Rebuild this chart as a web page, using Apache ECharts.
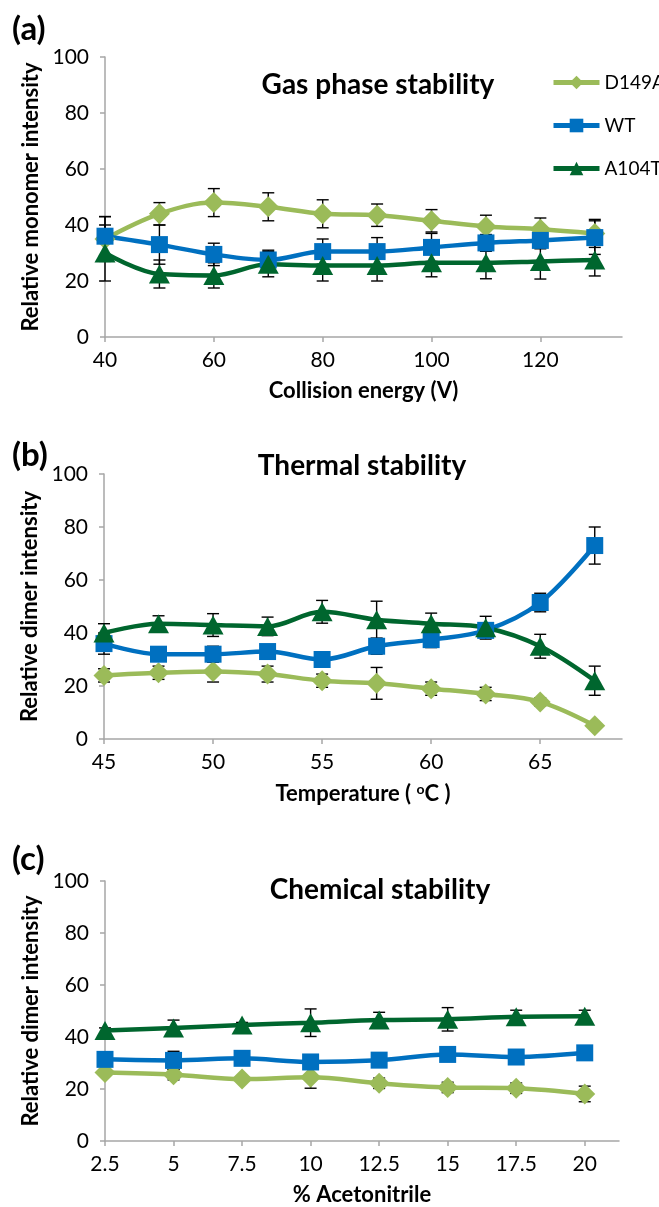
<!DOCTYPE html>
<html>
<head>
<meta charset="utf-8">
<script src="https://cdn.jsdelivr.net/npm/echarts@6.0.0/dist/echarts.min.js"></script>
<style>
  html, body { margin: 0; padding: 0; background: #fff; }
  #chart { width: 659px; height: 1207px; }
</style>
</head>
<body>
<div id="chart"></div>
<script>
// (a) gas phase
const energyV = [40, 50, 60, 70, 80, 90, 100, 110, 120, 130];
const energyTicks = [40, 60, 80, 100, 120];
const gasD149A = [35, 44, 48, 46.5, 44, 43.5, 41.5, 39.5, 38.5, 37];
const gasD149AErr = [8, 4, 5, 5, 5, 4, 4, 4, 4, 5];
const gasWT = [36, 33, 29.5, 27.5, 30.5, 30.5, 32, 33.6, 34.5, 35.5];
const gasWTErr = [7, 7, 4, 3.5, 4.5, 5, 5, 3, 3, 6];
const gasA104T = [30, 22.5, 22, 26, 25.5, 25.5, 26.5, 26.5, 27, 27.5];
const gasA104TErr = [10, 5, 4.5, 4.5, 5.5, 5.5, 5, 5.7, 6.3, 5.7];

// (b) thermal
const tempC = [45, 47.5, 50, 52.5, 55, 57.5, 60, 62.5, 65, 67.5];
const tempTicks = [45, 50, 55, 60, 65];
const thermD149A = [24, 25, 25.5, 24.5, 22, 21, 19, 17, 14, 5];
const thermD149AErr = [2.5, 2.5, 4, 3, 2.5, 6, 2.5, 2.5, 1.5, 1];
const thermWT = [36, 32, 32, 33, 30, 35, 37.5, 41, 51.5, 73];
const thermWTErr = [4, 2, 3, 2, 2.5, 3, 3, 2, 3.5, 7];
const thermA104T = [40, 43.5, 43, 42.5, 48, 45, 43.5, 42, 35, 22];
const thermA104TErr = [3.5, 3, 4.3, 3.5, 4.3, 7, 4, 4.3, 4.5, 5.5];

// (c) chemical
const acetonitrile = [2.5, 5, 7.5, 10, 12.5, 15, 17.5, 20];
const acnTicks = [2.5, 5, 7.5, 10, 12.5, 15, 17.5, 20];
const chemD149A = [26.3, 25.5, 23.8, 24.5, 22.2, 20.6, 20.3, 18.1];
const chemD149AErr = [1, 2, 1, 4.2, 2, 2, 2, 3];
const chemWT = [31.4, 31, 31.8, 30.4, 31.1, 33.3, 32.3, 33.9];
const chemWTErr = [1, 3.5, 1, 1, 1, 1, 2.5, 1];
const chemA104T = [42.5, 43.5, 44.6, 45.5, 46.5, 46.8, 47.8, 48];
const chemA104TErr = [1, 3, 1, 5.3, 3, 4.5, 2.5, 2.3];

const yTicks = [0, 20, 40, 60, 80, 100];

const FONT = 'Lato';
const colD149A = '#9BBB59';
const colWT = '#0070C0';
const colA104T = '#00662E';
const axisGray = '#A6A6A6';

const chart = echarts.init(document.getElementById('chart'));

function errorBarItem(params, api) {
    const x = api.value(0);
    const lo = api.coord([x, api.value(1)]);
    const hi = api.coord([x, api.value(2)]);
    const w = 6;
    const style = { stroke: '#000', lineWidth: 1.4 };
    return {
        type: 'group',
        children: [
            { type: 'line', shape: { x1: lo[0], y1: lo[1], x2: hi[0], y2: hi[1] }, style: style },
            { type: 'line', shape: { x1: lo[0] - w, y1: lo[1], x2: lo[0] + w, y2: lo[1] }, style: style },
            { type: 'line', shape: { x1: hi[0] - w, y1: hi[1], x2: hi[0] + w, y2: hi[1] }, style: style }
        ]
    };
}

const symbols = {
    D149A: { symbol: 'diamond', size: [21, 21], color: colD149A },
    WT: { symbol: 'rect', size: [17, 17], color: colWT },
    A104T: { symbol: 'triangle', size: [21, 19], color: colA104T }
};

const makeSeries = (name, xs, ys, errs, idx) => {
    const s = symbols[name];
    return [
        {
            name: name + ' error',
            type: 'custom',
            xAxisIndex: idx,
            yAxisIndex: idx,
            renderItem: errorBarItem,
            encode: { x: 0, y: [1, 2] },
            z: 1,
            silent: true,
            data: xs.map((x, i) => [x, ys[i] - errs[i], ys[i] + errs[i]])
        },
        {
            name: name,
            type: 'line',
            xAxisIndex: idx,
            yAxisIndex: idx,
            smooth: 0.35,
            symbol: s.symbol,
            symbolSize: s.size,
            showAllSymbol: true,
            z: 3,
            itemStyle: { color: s.color },
            lineStyle: { color: s.color, width: 4.5 },
            data: xs.map((x, i) => [x, ys[i]])
        }
    ];
};

const makeX = (idx, min, max, ticks, name) => ({
    type: 'value',
    gridIndex: idx,
    min: min,
    max: max,
    name: name,
    nameLocation: 'middle',
    nameGap: 43,
    nameTextStyle: { fontFamily: FONT, fontSize: 22, fontWeight: 'bold', color: '#000',
        rich: { sup: { fontFamily: FONT, fontSize: 14, fontWeight: 'bold', verticalAlign: 'top', padding: [0, 0, 9, 0] } } },
    splitLine: { show: false },
    axisLine: { onZero: false, lineStyle: { color: axisGray, width: 1.5 } },
    axisTick: { show: true, length: 5, customValues: ticks, lineStyle: { color: axisGray, width: 1.5 } },
    axisLabel: { customValues: ticks, margin: 13, fontFamily: FONT, fontSize: 21, color: '#000' }
});

const makeY = (idx, name) => ({
    type: 'value',
    gridIndex: idx,
    min: 0,
    max: 100,
    interval: 20,
    name: name,
    nameLocation: 'middle',
    nameGap: 63,
    nameRotate: 90,
    nameTextStyle: { fontFamily: FONT, fontSize: 22, fontWeight: 'bold', color: '#000' },
    splitLine: { show: false },
    axisLine: { show: true, lineStyle: { color: axisGray, width: 1.5 } },
    axisTick: { show: true, length: 5, customValues: yTicks, lineStyle: { color: axisGray, width: 1.5 } },
    axisLabel: { customValues: yTicks, margin: 16, fontFamily: FONT, fontSize: 21, color: '#000' }
});

const titleStyle = { fontFamily: FONT, fontSize: 28, fontWeight: 'bold', color: '#000' };
const tagStyle = { fontFamily: FONT, fontSize: 33, fontWeight: 'bold', color: '#000' };

const option = {
    backgroundColor: '#fff',
    animation: false,
    title: [
        { text: '(a)', left: 7, top: 8, textStyle: tagStyle },
        { text: '(b)', left: 7, top: 434, textStyle: tagStyle },
        { text: '(c)', left: 7, top: 838, textStyle: tagStyle },
        { text: 'Gas phase stability', left: 373, top: 66, textAlign: 'center', textStyle: titleStyle },
        { text: 'Thermal stability', left: 357, top: 447, textAlign: 'center', textStyle: titleStyle },
        { text: 'Chemical stability', left: 375, top: 871, textAlign: 'center', textStyle: titleStyle }
    ],
    legend: {
        data: ['D149A', 'WT', 'A104T'],
        orient: 'vertical',
        left: 546,
        top: 68,
        itemWidth: 46,
        itemHeight: 17,
        itemGap: 24,
        lineStyle: { width: 5 },
        textStyle: { fontFamily: FONT, fontSize: 19, color: '#000' }
    },
    grid: [
        { left: 105, right: 37, top: 57, height: 280 },
        { left: 104, right: 37, top: 474, height: 265 },
        { left: 105, right: 40, top: 881, height: 260 }
    ],
    xAxis: [
        makeX(0, 40, 135, energyTicks, 'Collision energy (V)'),
        makeX(1, 45, 68.75, tempTicks, 'Temperature ( {sup|o}C )'),
        makeX(2, 2.5, 21.25, acnTicks, '% Acetonitrile')
    ],
    yAxis: [
        makeY(0, 'Relative monomer intensity'),
        makeY(1, 'Relative dimer intensity'),
        makeY(2, 'Relative dimer intensity')
    ],
    series: [
        ...makeSeries('D149A', energyV, gasD149A, gasD149AErr, 0),
        ...makeSeries('WT', energyV, gasWT, gasWTErr, 0),
        ...makeSeries('A104T', energyV, gasA104T, gasA104TErr, 0),
        ...makeSeries('D149A', tempC, thermD149A, thermD149AErr, 1),
        ...makeSeries('WT', tempC, thermWT, thermWTErr, 1),
        ...makeSeries('A104T', tempC, thermA104T, thermA104TErr, 1),
        ...makeSeries('D149A', acetonitrile, chemD149A, chemD149AErr, 2),
        ...makeSeries('WT', acetonitrile, chemWT, chemWTErr, 2),
        ...makeSeries('A104T', acetonitrile, chemA104T, chemA104TErr, 2)
    ]
};

chart.setOption(option);
</script>
</body>
</html>
